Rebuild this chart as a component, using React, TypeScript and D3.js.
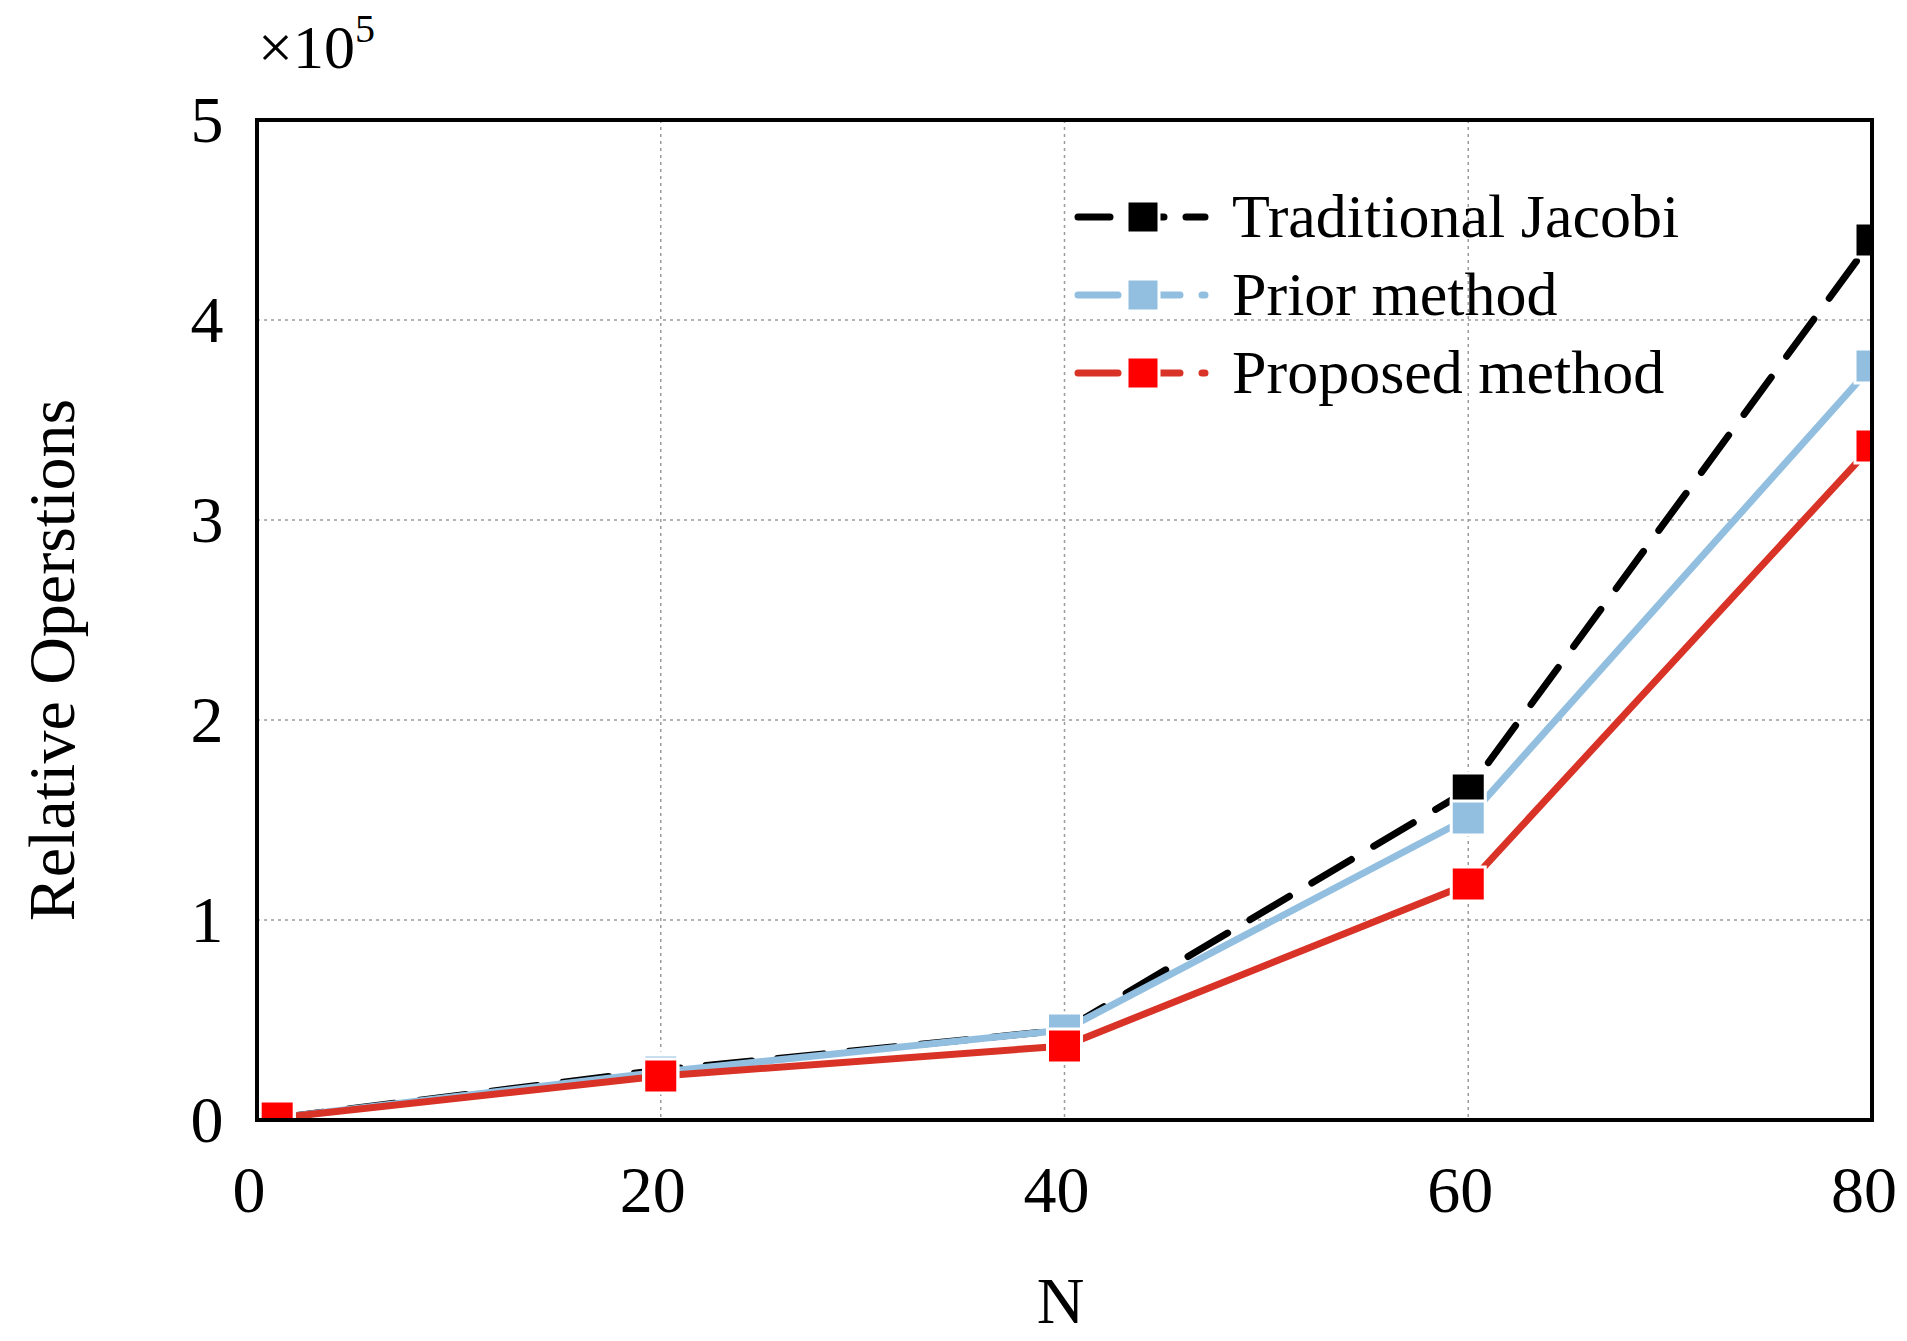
import { useRef, useEffect } from 'react';
import * as d3 from 'd3';

const nValues = [1, 20, 40, 60, 80];
const traditional = [0.01, 0.25, 0.45, 1.65, 4.4];
const prior = [0.01, 0.24, 0.45, 1.51, 3.77];
const proposed = [0.01, 0.22, 0.37, 1.18, 3.37];
const xTicks = [0, 20, 40, 60, 80];
const yTicks = [0, 1, 2, 3, 4, 5];

const W = 1907;
const H = 1341;
const M = { left: 257, right: 35, top: 120, bottom: 221 };
const FONT = '"Liberation Serif", "DejaVu Serif", serif';

const series = [
  { name: 'Traditional Jacobi', values: traditional, line: '#000000', marker: '#000000', dash: '46,26' },
  { name: 'Prior method', values: prior, line: '#92bfdf', marker: '#92bfdf', dash: null },
  { name: 'Proposed method', values: proposed, line: '#d93226', marker: '#ff0000', dash: null },
];

export default function App() {
  const ref = useRef<SVGSVGElement>(null);

  useEffect(() => {
    const svg = d3.select(ref.current);
    svg.selectAll('*').remove();
    const x0 = M.left, x1 = W - M.right, y0 = H - M.bottom, y1 = M.top;
    const x = d3.scaleLinear().domain([0, 80]).range([x0, x1]);
    const y = d3.scaleLinear().domain([0, 5]).range([y0, y1]);

    svg.append('rect').attr('width', W).attr('height', H).attr('fill', '#fff');
    svg.append('clipPath').attr('id', 'plot')
      .append('rect').attr('x', x0).attr('y', y1).attr('width', x1 - x0).attr('height', y0 - y1);

    // grid
    xTicks.slice(1, -1).forEach((t) => {
      svg.append('line').attr('x1', x(t)).attr('x2', x(t)).attr('y1', y1).attr('y2', y0)
        .attr('stroke', '#9a9a9a').attr('stroke-width', 1.5).attr('stroke-dasharray', '3,4');
    });
    yTicks.slice(1, -1).forEach((t) => {
      svg.append('line').attr('x1', x0).attr('x2', x1).attr('y1', y(t)).attr('y2', y(t))
        .attr('stroke', '#9a9a9a').attr('stroke-width', 1.5).attr('stroke-dasharray', '3,4');
    });

    // tick labels
    xTicks.forEach((t) => {
      svg.append('text').attr('x', x(t) - 8).attr('y', y0 + 92).attr('text-anchor', 'middle')
        .attr('font-family', FONT).attr('font-size', 66).text(t);
    });
    yTicks.forEach((t) => {
      svg.append('text').attr('x', x0 - 50).attr('y', y(t) + 22).attr('text-anchor', 'middle')
        .attr('font-family', FONT).attr('font-size', 66).text(t);
    });

    const g = svg.append('g').attr('clip-path', 'url(#plot)');
    const line = d3.line<number>().x((_, i) => x(nValues[i])).y((d) => y(d));
    series.forEach((s) => {
      g.append('path').attr('d', line(s.values)).attr('fill', 'none')
        .attr('stroke', s.line).attr('stroke-width', 7).attr('stroke-linecap', 'round')
        .attr('stroke-dasharray', s.dash);
    });
    series.forEach((s) => {
      s.values.forEach((v, i) => {
        g.append('rect').attr('x', x(nValues[i]) - 17).attr('y', y(v) - 17)
          .attr('width', 34).attr('height', 34).attr('fill', s.marker)
          .attr('stroke', '#fff').attr('stroke-width', 3);
      });
    });

    // frame
    svg.append('rect').attr('x', x0).attr('y', y1).attr('width', x1 - x0).attr('height', y0 - y1)
      .attr('fill', 'none').attr('stroke', '#000').attr('stroke-width', 4);

    // legend
    series.forEach((s, i) => {
      const ly = 217 + i * 78;
      svg.append('line').attr('x1', 1078).attr('x2', 1205).attr('y1', ly).attr('y2', ly)
        .attr('stroke', s.line).attr('stroke-width', 7).attr('stroke-linecap', 'round')
        .attr('stroke-dasharray', s.dash ? '32,22' : '40,22');
      svg.append('rect').attr('x', 1127).attr('y', ly - 16).attr('width', 32).attr('height', 32)
        .attr('fill', s.marker).attr('stroke', '#fff').attr('stroke-width', 3);
      svg.append('text').attr('x', 1232).attr('y', ly + 20).attr('font-family', FONT)
        .attr('font-size', 62).text(s.name);
    });

    // axis titles
    svg.append('text').attr('x', x(40) - 4).attr('y', H - 18).attr('text-anchor', 'middle')
      .attr('font-family', FONT).attr('font-size', 66).text('N');
    svg.append('text').attr('transform', `translate(74,${(y0 + y1) / 2 + 40}) rotate(-90)`)
      .attr('text-anchor', 'middle').attr('font-family', FONT).attr('font-size', 66)
      .text('Relative Operstions');
    const exp = svg.append('text').attr('x', 258).attr('y', 68).attr('font-family', FONT).attr('font-size', 62);
    exp.append('tspan').text('×10');
    exp.append('tspan').attr('dy', -26).attr('font-size', 40).text('5');
  }, []);

  return <svg ref={ref} width={W} height={H} style={{ display: 'block', margin: -8 }} />;
}
